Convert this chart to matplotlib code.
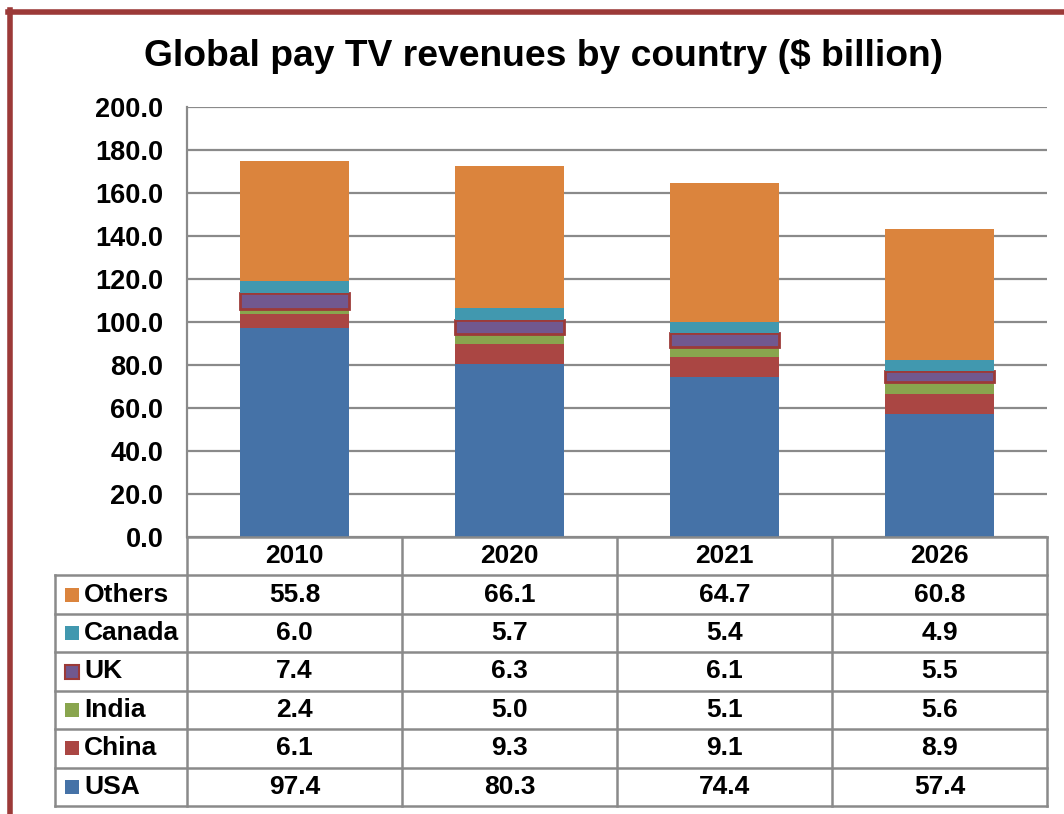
import matplotlib.pyplot as plt
import numpy as np
from matplotlib.lines import Line2D

plt.rcParams['font.family'] = ['Liberation Sans', 'DejaVu Sans']
plt.rcParams['font.weight'] = 'bold'

years = ['2010', '2020', '2021', '2026']
usa = [97.4, 80.3, 74.4, 57.4]
china = [6.1, 9.3, 9.1, 8.9]
india = [2.4, 5.0, 5.1, 5.6]
uk = [7.4, 6.3, 6.1, 5.5]
canada = [6.0, 5.7, 5.4, 4.9]
others = [55.8, 66.1, 64.7, 60.8]

# bottom to top
series = [('USA', usa, '#4572A7'), ('China', china, '#AA4643'),
          ('India', india, '#89A54E'), ('UK', uk, '#71588F'),
          ('Canada', canada, '#4198AF'), ('Others', others, '#DB843D')]
uk_edge = '#9C3A38'
grid_c = '#8A8A8A'

W, H = 1064, 814
fig = plt.figure(figsize=(W / 100, H / 100), dpi=100)

def fx(px):
    return px / W

def fy(py):
    return 1 - py / H

# chart area
ax = fig.add_axes([fx(187), fy(537), fx(1047) - fx(187), fy(107) - fy(537)])
x = np.arange(len(years))
bottom = np.zeros(len(years))
for name, vals, col in series:
    if name == 'UK':
        ax.bar(x, vals, 0.51, bottom=bottom, color=col, edgecolor=uk_edge,
               linewidth=2, zorder=3)
    else:
        ax.bar(x, vals, 0.51, bottom=bottom, color=col, linewidth=0, zorder=3)
    bottom += np.array(vals)

ax.set_xlim(-0.5, len(years) - 0.5)
ax.set_ylim(0, 200)
ax.set_yticks(np.arange(0, 201, 20))
ax.set_yticklabels([f'{v:.1f}' for v in np.arange(0, 201, 20)])
ax.set_xticks([])
ax.yaxis.grid(True, color=grid_c, linewidth=1.6)
ax.set_axisbelow(True)
ax.tick_params(axis='y', length=0, pad=17, labelsize=19.5)
for s in ['top', 'right', 'bottom']:
    ax.spines[s].set_visible(False)
ax.spines['left'].set_color(grid_c)
ax.spines['left'].set_linewidth(1.6)

# data table
lab_w = (187 - 55) / 215
tax = fig.add_axes([fx(55), fy(806), fx(1047) - fx(55), fy(537) - fy(806)])
tax.set_xlim(-0.5 - lab_w, len(years) - 0.5)
tax.set_ylim(7, 0)
tax.axis('off')
lk = dict(color=grid_c, linewidth=1.8, clip_on=False)
left_edge = -0.5 - lab_w
right_edge = len(years) - 0.5
tax.plot([-0.5, right_edge], [0, 0], **lk)
for r in range(1, 8):
    tax.plot([left_edge, right_edge], [r, r], **lk)
tax.plot([left_edge, left_edge], [1, 7], **lk)
for c in range(len(years) + 1):
    tax.plot([c - 0.5, c - 0.5], [0, 7], **lk)

fs = 19
for i, yr in enumerate(years):
    tax.text(i, 0.5, yr, ha='center', va='center', fontsize=fs, fontweight='bold')

for r, (name, vals, col) in enumerate(series[::-1]):
    yc = r + 1.5
    if name == 'UK':
        tax.plot(left_edge + 0.077, yc, marker='s', markersize=9.5, color=col,
                 markeredgecolor=uk_edge, markeredgewidth=1.5, clip_on=False)
    else:
        tax.plot(left_edge + 0.077, yc, marker='s', markersize=10, color=col,
                 markeredgewidth=0, clip_on=False)
    tax.text(left_edge + 0.135, yc, name, ha='left', va='center', fontsize=fs,
             fontweight='bold')
    for i, v in enumerate(vals):
        tax.text(i, yc, f'{v:.1f}', ha='center', va='center', fontsize=fs,
                 fontweight='bold')

fig.text(fx(544), fy(66), 'Global pay TV revenues by country ($ billion)',
         ha='center', va='baseline', fontsize=26.8, fontweight='bold')

# outer frame (top and left only visible)
border = '#9C3A38'
fig.add_artist(Line2D([fx(8), fx(1064)], [fy(12), fy(12)], color=border, linewidth=4))
fig.add_artist(Line2D([fx(10), fx(10)], [fy(10), fy(814)], color=border, linewidth=4))

fig.savefig('out.png', dpi=100)
